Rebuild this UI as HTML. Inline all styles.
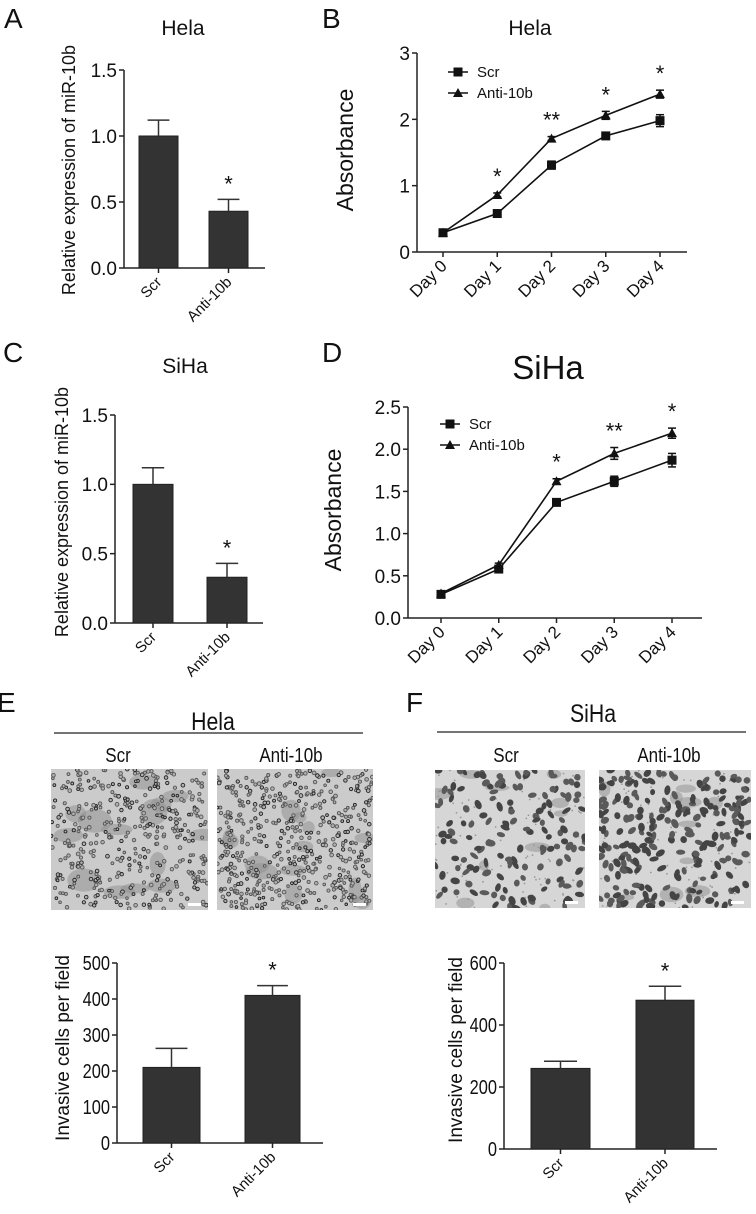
<!DOCTYPE html>
<html><head><meta charset="utf-8">
<style>
html,body{margin:0;padding:0;background:#fff;}
svg{display:block;font-family:"Liberation Sans",Arial,sans-serif;}
</style></head>
<body>
<svg id="fig" width="756" height="1214" viewBox="0 0 756 1214" xmlns="http://www.w3.org/2000/svg">
<rect width="756" height="1214" fill="#fff"/>
<g id="root"></g>
</svg>
<script>
// ---------- DATA ----------
const barCats = ["Scr", "Anti-10b"];
const aValues = [1.0, 0.43];
const aErrors = [0.12, 0.09];
const cValues = [1.0, 0.33];
const cErrors = [0.12, 0.10];
const eValues = [210, 410];
const eErrors = [53, 27];
const fValues = [260, 480];
const fErrors = [23, 45];
const days = ["Day 0", "Day 1", "Day 2", "Day 3", "Day 4"];
const bScr = [0.29, 0.58, 1.31, 1.75, 1.98];
const bScrErr = [0.02, 0.03, 0.06, 0.03, 0.09];
const bAnti = [0.29, 0.86, 1.71, 2.06, 2.38];
const bAntiErr = [0.02, 0.03, 0.03, 0.06, 0.06];
const bStars = ["", "*", "**", "*", "*"];
const dScr = [0.28, 0.58, 1.37, 1.62, 1.87];
const dScrErr = [0.02, 0.03, 0.03, 0.06, 0.08];
const dAnti = [0.29, 0.63, 1.62, 1.95, 2.19];
const dAntiErr = [0.02, 0.02, 0.03, 0.07, 0.06];
const dStars = ["", "", "*", "**", "*"];
const ticksAC = [0, 0.5, 1.0, 1.5];
const ticksB = [0, 1, 2, 3];
const ticksD = [0, 0.5, 1.0, 1.5, 2.0, 2.5];
const ticksE = [0, 100, 200, 300, 400, 500];
const ticksF = [0, 200, 400, 600];

// ---------- HELPERS ----------
const NS = "http://www.w3.org/2000/svg";
const root = document.getElementById("root");
function el(tag, attrs, parent, txt) {
  const e = document.createElementNS(NS, tag);
  for (const k in attrs) e.setAttribute(k, attrs[k]);
  if (txt !== undefined) e.textContent = txt;
  (parent || root).appendChild(e);
  return e;
}
function grp(name, parent) {
  const g = document.createElementNS(NS, "g");
  
  
  (parent || root).appendChild(g);
  return g;
}
function txt(parent, name, x, y, s, size, anchor, extra) {
  const t = el("text", Object.assign({x: x, y: y, "font-size": size, "text-anchor": anchor || "middle", fill: "#111"}, extra || {}), parent, s);
  
  
  return t;
}
function fmt(v, dec) { return dec ? v.toFixed(dec) : String(v); }

// bar chart
function barChart(o) {
  const g = grp(o.name);
  const ymax = o.ticks[o.ticks.length - 1];
  const Y = v => o.y0 - (v / ymax) * (o.y0 - o.yTop);
  el("line", {x1: o.x0, y1: o.yTop, x2: o.x0, y2: o.y0, stroke: "#222", "stroke-width": 1.5}, g);
  el("line", {x1: o.x0, y1: o.y0, x2: o.xEnd, y2: o.y0, stroke: "#222", "stroke-width": 1.5}, g);
  o.ticks.forEach(t => {
    el("line", {x1: o.x0 - 5, y1: Y(t), x2: o.x0, y2: Y(t), stroke: "#222", "stroke-width": 1.5}, g);
    const tt = txt(g, "y-tick-label", o.x0 - 7, Y(t) + o.tickSize * 0.36, fmt(t, o.dec), o.tickSize, "end");
    if (o.cond) { tt.setAttribute("transform", `translate(${o.x0 - 7},0) scale(0.82,1) translate(${-(o.x0 - 7)},0)`); }
  });
  o.values.forEach((v, i) => {
    const [l, r] = o.bars[i];
    const cx = (l + r) / 2;
    const b = el("rect", {x: l, y: Y(v), width: r - l, height: o.y0 - Y(v), fill: "#333", stroke: "#222", "stroke-width": 1}, g);
    
    
    const eb = Y(v + o.errors[i]);
    el("line", {x1: cx, y1: Y(v), x2: cx, y2: eb, stroke: "#333", "stroke-width": 1.5}, g);
    el("line", {x1: cx - (r - l) * 0.28, y1: eb, x2: cx + (r - l) * 0.28, y2: eb, stroke: "#333", "stroke-width": 1.5}, g);
    el("line", {x1: cx, y1: o.y0, x2: cx, y2: o.y0 + 5, stroke: "#222", "stroke-width": 1.5}, g);
    if (i === 1) txt(g, "significance-star", cx, eb - 8, "*", 22, "middle");
    const lx = cx + 4, ly = o.y0 + 15;
    txt(g, "x-tick-label", lx, ly, barCats[i], o.xSize, "end", {transform: `rotate(-45 ${lx} ${ly})`});
  });
  txt(g, "y-axis-title", o.ylx, o.yly, o.ylabel, o.ylSize, "middle", {transform: `rotate(-90 ${o.ylx} ${o.yly})`});
  return g;
}

// line chart
function lineChart(o) {
  const g = grp(o.name);
  const ymax = o.ticks[o.ticks.length - 1];
  const Y = v => o.y0 - (v / ymax) * (o.y0 - o.yTop);
  const X = i => o.xFirst + i * (o.xLast - o.xFirst) / (days.length - 1);
  el("line", {x1: o.x0, y1: o.yTop, x2: o.x0, y2: o.y0, stroke: "#222", "stroke-width": 1.5}, g);
  el("line", {x1: o.x0, y1: o.y0, x2: o.xEnd, y2: o.y0, stroke: "#222", "stroke-width": 1.5}, g);
  o.ticks.forEach(t => {
    el("line", {x1: o.x0 - 5, y1: Y(t), x2: o.x0, y2: Y(t), stroke: "#222", "stroke-width": 1.5}, g);
    txt(g, "y-tick-label", o.x0 - 7, Y(t) + 7, fmt(t, o.dec), 19, "end");
  });
  days.forEach((d, i) => {
    el("line", {x1: X(i), y1: o.y0, x2: X(i), y2: o.y0 + 5, stroke: "#222", "stroke-width": 1.5}, g);
    const lx = X(i) + 5, ly = o.y0 + 15;
    txt(g, "x-tick-label", lx, ly, d, 17, "end", {transform: `rotate(-45 ${lx} ${ly})`});
  });
  function series(vals, errs, name, tri) {
    const sg = grp(name, g);
    el("polyline", {points: vals.map((v, i) => `${X(i)},${Y(v)}`).join(" "), fill: "none", stroke: "#111", "stroke-width": 1.6}, sg);
    vals.forEach((v, i) => {
      const x = X(i), y = Y(v), e1 = Y(v + errs[i]), e2 = Y(v - errs[i]);
      el("line", {x1: x, y1: e1, x2: x, y2: e2, stroke: "#111", "stroke-width": 1.5}, sg);
      el("line", {x1: x - 4, y1: e1, x2: x + 4, y2: e1, stroke: "#111", "stroke-width": 1.5}, sg);
      el("line", {x1: x - 4, y1: e2, x2: x + 4, y2: e2, stroke: "#111", "stroke-width": 1.5}, sg);
      let m;
      if (tri) m = el("polygon", {points: `${x},${y - 5} ${x - 5},${y + 4} ${x + 5},${y + 4}`, fill: "#111"}, sg);
      else m = el("rect", {x: x - 4.5, y: y - 4.5, width: 9, height: 9, fill: "#111"}, sg);
      
      
    });
  }
  series(o.scr, o.scrErr, "series-scr", false);
  series(o.anti, o.antiErr, "series-anti-10b", true);
  o.stars.forEach((s, i) => { if (s) txt(g, "significance-star", X(i), Y(o.anti[i] + o.antiErr[i]) - 9, s, 22, "middle"); });
  const lg = grp("legend", g);
  el("line", {x1: o.lgx, y1: o.lgy, x2: o.lgx + 20, y2: o.lgy, stroke: "#111", "stroke-width": 1.6}, lg);
  el("rect", {x: o.lgx + 5.5, y: o.lgy - 4.5, width: 9, height: 9, fill: "#111"}, lg);
  txt(lg, "legend-entry-scr", o.lgx + 29, o.lgy + 5, "Scr", 15, "start");
  const y2 = o.lgy + 21;
  el("line", {x1: o.lgx, y1: y2, x2: o.lgx + 20, y2: y2, stroke: "#111", "stroke-width": 1.6}, lg);
  el("polygon", {points: `${o.lgx + 10},${y2 - 5} ${o.lgx + 5},${y2 + 4} ${o.lgx + 15},${y2 + 4}`, fill: "#111"}, lg);
  txt(lg, "legend-entry-anti-10b", o.lgx + 29, y2 + 5, "Anti-10b", 15, "start");
  txt(g, "y-axis-title", o.ylx, o.yly, "Absorbance", 23, "middle", {transform: `rotate(-90 ${o.ylx} ${o.yly})`});
}

// ---------- PANEL LABELS / TITLES ----------
const lab = grp("panel-labels");
txt(lab, "panel-label-a", 4, 28, "A", 28, "start");
txt(lab, "panel-label-b", 322, 28, "B", 28, "start");
txt(lab, "panel-label-c", 3, 362, "C", 28, "start");
txt(lab, "panel-label-d", 322, 362, "D", 28, "start");
txt(lab, "panel-label-e", -3, 712, "E", 28, "start");
txt(lab, "panel-label-f", 406, 712, "F", 28, "start");
txt(lab, "title-a", 183, 35, "Hela", 21);
txt(lab, "title-b", 530, 35, "Hela", 21);
txt(lab, "title-c", 185, 373, "SiHa", 21);
txt(lab, "title-d", 548, 379, "SiHa", 33);

barChart({name: "chart-a", x0: 124, xEnd: 265, yTop: 70, y0: 268, ticks: ticksAC, dec: 1, values: aValues, errors: aErrors,
  bars: [[139, 178], [209, 248]], tickSize: 19, xSize: 15, ylabel: "Relative expression of miR-10b", ylx: 75, yly: 170, ylSize: 18});
lineChart({name: "chart-b", x0: 417, xEnd: 687, yTop: 53, y0: 252, ticks: ticksB, dec: 0, xFirst: 443, xLast: 660,
  scr: bScr, scrErr: bScrErr, anti: bAnti, antiErr: bAntiErr, stars: bStars, lgx: 448, lgy: 72, ylx: 353, yly: 150});
barChart({name: "chart-c", x0: 115, xEnd: 263, yTop: 415, y0: 623, ticks: ticksAC, dec: 1, values: cValues, errors: cErrors,
  bars: [[133, 173], [207, 247]], tickSize: 19, xSize: 15, ylabel: "Relative expression of miR-10b", ylx: 68, yly: 512, ylSize: 18});
lineChart({name: "chart-d", x0: 408, xEnd: 702, yTop: 407, y0: 618, ticks: ticksD, dec: 1, xFirst: 441, xLast: 672,
  scr: dScr, scrErr: dScrErr, anti: dAnti, antiErr: dAntiErr, stars: dStars, lgx: 440, lgy: 424, ylx: 341, yly: 510});

// ---------- E / F headers ----------
const hdr = grp("invasion-headers");
el("line", {x1: 54, y1: 733, x2: 363, y2: 733, stroke: "#222", "stroke-width": 1.2}, hdr);
el("line", {x1: 437, y1: 732, x2: 746, y2: 732, stroke: "#222", "stroke-width": 1.2}, hdr);
function ctext(name, x, y, s, size) {
  return txt(hdr, name, x, y, s, size, "middle", {transform: `translate(${x},0) scale(0.85,1) translate(${-x},0)`});
}
ctext("title-e", 213, 730, "Hela", 25);
ctext("title-f", 593, 722, "SiHa", 25);
ctext("label-e-scr", 118, 762, "Scr", 20);
ctext("label-e-anti", 291, 762, "Anti-10b", 20);
ctext("label-f-scr", 506, 762, "Scr", 20);
ctext("label-f-anti", 669, 762, "Anti-10b", 20);

// ---------- MICROGRAPHS (texture) ----------
let seed = 12345;
function rnd() { seed = (seed * 1103515245 + 12345) % 2147483648; return seed / 2147483648; }
function micro(name, x, y, w, h, type, density) {
  const g = grp(name);
  const cid = name + "-clip";
  const cp = el("clipPath", {id: cid}, g);
  el("rect", {x: x, y: y, width: w, height: h}, cp);
  const ig = el("g", {"clip-path": `url(#${cid})`}, g);
  if (type === "hela") {
    el("rect", {x: x, y: y, width: w, height: h, fill: "#cbcbcb"}, ig);
    for (let i = 0; i < 14; i++) el("ellipse", {cx: x + rnd() * w, cy: y + rnd() * h, rx: 6 + rnd() * 12, ry: 4 + rnd() * 9, fill: "#8e8e8e", opacity: 0.5}, ig);
    for (let i = 0; i < density; i++) {
      el("circle", {cx: x + rnd() * w, cy: y + rnd() * h, r: 1.3 + rnd() * 0.6, fill: "#b0b0b0", stroke: rnd() < 0.3 ? "#222" : "#555", "stroke-width": 0.9}, ig);
    }
  } else {
    el("rect", {x: x, y: y, width: w, height: h, fill: "#d6d6d6"}, ig);
    for (let i = 0; i < 100; i++) el("circle", {cx: x + rnd() * w, cy: y + rnd() * h, r: 0.9, fill: "#999"}, ig);
    for (let i = 0; i < 10; i++) el("ellipse", {cx: x + rnd() * w, cy: y + rnd() * h, rx: 5 + rnd() * 8, ry: 3 + rnd() * 5, fill: "#999", opacity: 0.6}, ig);
    for (let i = 0; i < density; i++) {
      const cx = x + rnd() * w, cy = y + rnd() * h, a = rnd() * 180;
      el("ellipse", {cx: cx, cy: cy, rx: 3 + rnd() * 2, ry: 2.2 + rnd() * 1.2, fill: rnd() < 0.5 ? "#444" : "#5a5a5a", transform: `rotate(${a} ${cx} ${cy})`}, ig);
    }
  }
  el("rect", {x: x + w - 20, y: y + h - 7, width: 13, height: 3, fill: "#fff"}, ig);
}
micro("micrograph-hela-scr", 51, 769, 157, 141, "hela", 420);
micro("micrograph-hela-anti", 217, 769, 156, 141, "hela", 520);
micro("micrograph-siha-scr", 435, 770, 150, 138, "siha", 150);
micro("micrograph-siha-anti", 599, 770, 152, 138, "siha", 240);

barChart({name: "chart-e", x0: 117, xEnd: 323, yTop: 963, y0: 1143, ticks: ticksE, dec: 0, values: eValues, errors: eErrors,
  bars: [[143, 200], [245, 300]], tickSize: 20, xSize: 15, cond: true, ylabel: "Invasive cells per field", ylx: 69, yly: 1048, ylSize: 19});
barChart({name: "chart-f", x0: 504, xEnd: 717, yTop: 963, y0: 1149, ticks: ticksF, dec: 0, values: fValues, errors: fErrors,
  bars: [[531, 590], [636, 694]], tickSize: 20, xSize: 15, cond: true, ylabel: "Invasive cells per field", ylx: 462, yly: 1050, ylSize: 19});
</script>
</body></html>
